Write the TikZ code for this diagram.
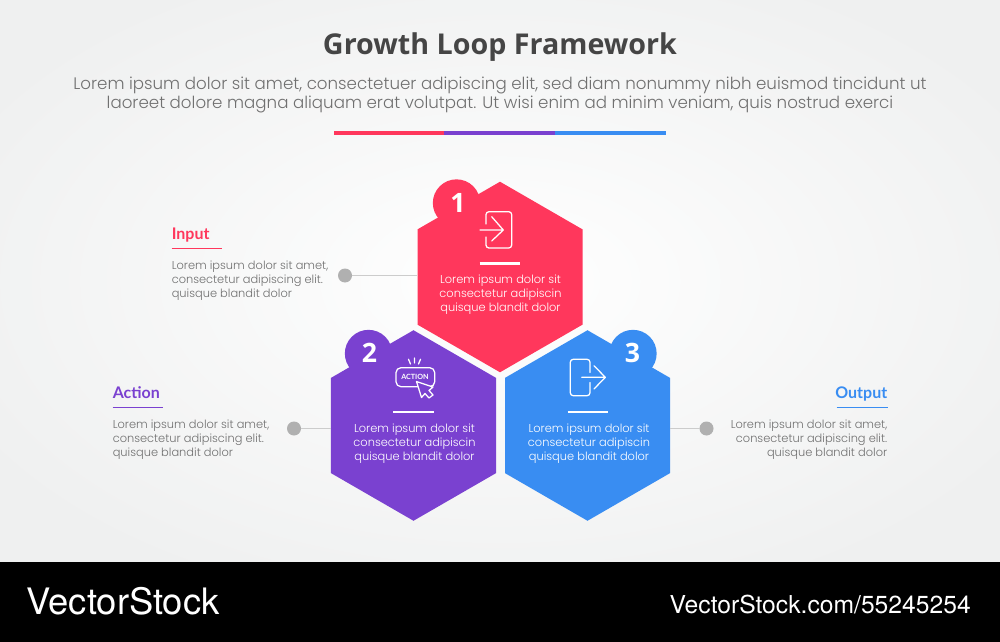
\documentclass[tikz,border=0pt]{standalone}
\usepackage{fontspec}
\setmainfont{Poppins}[UprightFont=* Light]
\newfontfamily\headfont{Open Sans}
\newfontfamily\labelfont{Lato}
\newfontfamily\footfont{TeX Gyre Heros}
\usetikzlibrary{shapes.geometric}
\definecolor{cred}{HTML}{FF375C}
\definecolor{cpurple}{HTML}{7A41D0}
\definecolor{cblue}{HTML}{398DF2}
\definecolor{ctext}{HTML}{707070}
\definecolor{cgrey}{HTML}{B0B0B0}
\definecolor{cline}{HTML}{CCCCCC}
\definecolor{bgouter}{HTML}{EFF0F0}
\tikzset{
  hexa/.style={regular polygon,regular polygon sides=6,shape border rotate=30,minimum size=142.9pt,inner sep=0pt,outer sep=0pt,draw=none},
  badge/.style={circle,minimum size=35.5pt,inner sep=0pt,outer sep=0pt},
  numlab/.style={text=white,inner sep=0pt,font=\headfont\bfseries\fontsize{20}{20}\selectfont},
  hextext/.style={text=white,align=center,inner sep=0pt,font=\fontsize{8.55}{10.5}\selectfont},
  sidetext/.style={text=ctext,inner sep=0pt,font=\fontsize{8.55}{10.5}\selectfont},
  sidehead/.style={inner sep=0pt,font=\labelfont\bfseries\fontsize{12}{14}\selectfont},
  dotnode/.style={circle,fill=cgrey,minimum size=10.5pt,inner sep=0pt,outer sep=0pt},
  conn/.style={draw=cline,line width=.9pt},
  iconline/.style={draw=white,line width=.95pt,line cap=round,line join=round},
  whiterule/.style={white,line width=2pt}
}
\begin{document}
\begin{tikzpicture}[x=0.75pt,y=-0.75pt]
\useasboundingbox (0,0) rectangle (1000,642);
\begin{scope}
\clip (0,0) rectangle (1000,562);
\shade[inner color=white,outer color=bgouter] (-100,-60) rectangle (1100,622);
\end{scope}
\fill[black] (0,562) rectangle (1000,642);
% heading
\node[text=black!73,inner sep=0pt,font=\headfont\bfseries\fontsize{21.5}{24}\selectfont] (title) at (500,47.5) {Growth Loop Framework};
\node[text=ctext,inner sep=0pt,align=center,font=\fontsize{12.5}{14.25}\selectfont] (sub) at (500,95) {Lorem ipsum dolor sit amet, consectetuer adipiscing elit, sed diam nonummy nibh euismod tincidunt ut\\laoreet dolore magna aliquam erat volutpat. Ut wisi enim ad minim veniam, quis nostrud exerci};
\fill[cred] (334,131) rectangle (444,134.5);
\fill[cpurple] (444,131) rectangle (555,134.5);
\fill[cblue] (555,131) rectangle (666,134.5);
% hexagons
\node[badge,fill=cred] (b1) at (456.5,203) {};
\node[badge,fill=cpurple] (b2) at (368.5,353.5) {};
\node[badge,fill=cblue] (b3) at (633,353.5) {};
\node[hexa,fill=cred] (h1) at (500,277) {};
\node[hexa,fill=cpurple] (h2) at (413.5,425.5) {};
\node[hexa,fill=cblue] (h3) at (587.5,425.5) {};
\node[numlab] (n1) at (458,202.5) {1};
\node[numlab] (n2) at (369.5,353) {2};
\node[numlab] (n3) at (632.5,353) {3};
% dots and connectors
\node[dotnode] (d1) at (345,275.5) {};
\node[dotnode] (d2) at (294,428.5) {};
\node[dotnode] (d3) at (706.5,428.5) {};
\draw[conn] (d1) -- (d1 -| h1.180);
\draw[conn] (d2) -- (d2 -| h2.180);
\draw[conn] (d3) -- (d3 -| h3.0);
% icon 1
\draw[iconline,rounded corners=2.2pt] (486,224) -- (486,211.7) -- (511.7,211.7) -- (511.7,248) -- (486,248) -- (486,237);
\draw[iconline] (480,230) -- (503.3,230) (491.7,216.7) -- (503.3,230) -- (491.7,241);
% icon 3
\draw[iconline,rounded corners=2.2pt] (590,372.5) -- (590,359.3) -- (570.3,359.3) -- (570.3,395.7) -- (590,395.7) -- (590,382.5);
\draw[iconline] (581.7,377.3) -- (605.3,377.3) (594,365.7) -- (605.3,377.3) -- (594,389);
% icon 2
\draw[iconline,rounded corners=3.7pt] (396,367.7) rectangle (434.7,386.7);
\node[text=white,inner sep=0pt,font=\labelfont\bfseries\fontsize{5.4}{6}\selectfont] (act) at (415,377.3) {ACTION};
\draw[iconline] (408.5,359.3) -- (410.5,364) (414.5,358) -- (414.5,363) (420.5,359.3) -- (418.5,364);
\draw[iconline,fill=cpurple] (416.5,381.5) -- (433,387) -- (429,390.5) -- (433,395) -- (429,398) -- (425,393.5) -- (421.5,397.5) -- cycle;
% rules
\draw[whiterule] (479.5,263.5) -- (520,263.5);
\draw[whiterule] (393,412) -- (434,412);
\draw[whiterule] (567.5,412) -- (608,412);
% hex texts
\node[hextext] (t1) at (500.5,295) {Lorem ipsum dolor sit\\consectetur adipiscin\\quisque blandit dolor};
\node[hextext] (t2) at (414.5,444) {Lorem ipsum dolor sit\\consectetur adipiscin\\quisque blandit dolor};
\node[hextext] (t3) at (589,444) {Lorem ipsum dolor sit\\consectetur adipiscin\\quisque blandit dolor};
% side labels
\node[sidehead,text=cred,anchor=base west] (l1) at (171.5,239) {Input};
\draw[cred,line width=.9pt] (171.5,248.5) -- (222,248.5);
\node[sidetext,align=left,anchor=west] (s1) at (171.5,281) {Lorem ipsum dolor sit amet,\\consectetur adipiscing elit.\\quisque blandit dolor};
\node[sidehead,text=cpurple,anchor=base west] (l2) at (112.5,398) {Action};
\draw[cpurple,line width=.9pt] (112.5,407.5) -- (163,407.5);
\node[sidetext,align=left,anchor=west] (s2) at (112.5,440) {Lorem ipsum dolor sit amet,\\consectetur adipiscing elit.\\quisque blandit dolor};
\node[sidehead,text=cblue,anchor=base east] (l3) at (887.5,398) {Output};
\draw[cblue,line width=.9pt] (836.5,407.5) -- (887.5,407.5);
\node[sidetext,align=right,anchor=east] (s3) at (887.5,440) {Lorem ipsum dolor sit amet,\\consectetur adipiscing elit.\\quisque blandit dolor};
% footer
\node[text=white,inner sep=0pt,anchor=west,font=\footfont\fontsize{27.3}{28}\selectfont] (vs) at (26,601.5) {VectorStock};
\node[text=white,inner sep=0pt,anchor=east,font=\footfont\fontsize{18.5}{20}\selectfont] (url) at (971,604.5) {VectorStock.com/55245254};
\end{tikzpicture}
\end{document}
